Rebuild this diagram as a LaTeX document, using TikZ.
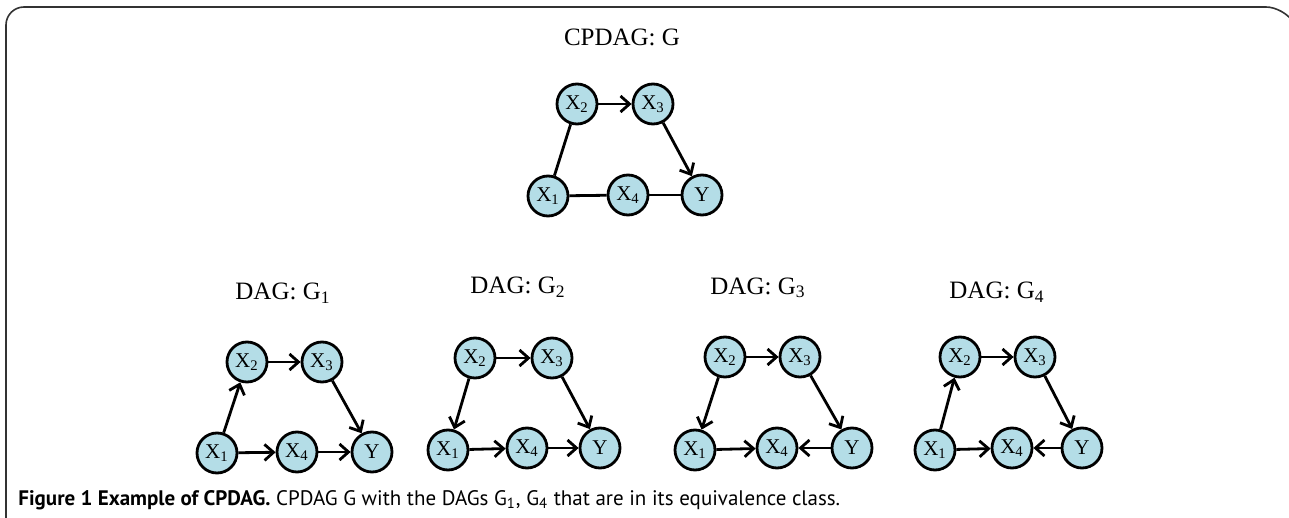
\documentclass[tikz,border=0pt]{standalone}
\usepackage{fontspec}
\setmainfont{Liberation Serif}
\newfontfamily\capfont{PT Sans}
\usetikzlibrary{arrows.meta}

\begin{document}
\begin{tikzpicture}[x=0.5pt, y=-0.5pt,
    var/.style = { draw, shape = circle, fill = lightblue, line width = 1.4pt,
                   minimum size = 20pt, inner sep = 0pt, font = \fontsize{10.5}{12}\selectfont },
    title/.style = { font = \fontsize{12.5}{14}\selectfont },
    every edge/.style = { draw, line width = 1.4pt },
    dir/.style = { -{Straight Barb[length=4.5pt, width=8pt]} }]
    \definecolor{lightblue}{HTML}{B4DDE7}
    \useasboundingbox (0,0) rectangle (1289,518);
    \draw[line width = 0.8pt, black!80, rounded corners = 9pt] (6,520) -- (6,7) -- (1284,7) -- (1298,30);

    % CPDAG G
    \node[title] (tc) at (622,37) {CPDAG: G};
    \node[var] (c2) at (577,104) {X\textsubscript{2}};
    \node[var] (c3) at (653,104) {X\textsubscript{3}};
    \node[var] (c1) at (548,196) {X\textsubscript{1}};
    \node[var] (c4) at (628,195) {X\textsubscript{4}};
    \node[var] (cy) at (702,195) {Y};
    \path (c2) edge[dir] (c3) (c3) edge[dir] (cy)
          (c2) edge (c1) (c1) edge (c4) (c4) edge (cy);

    % DAG G1
    \node[title] (t1) at (283,293) {DAG: G\textsubscript{1}};
    \node[var] (a2) at (247,362) {X\textsubscript{2}};
    \node[var] (a3) at (322,362) {X\textsubscript{3}};
    \node[var] (a1) at (217,453) {X\textsubscript{1}};
    \node[var] (a4) at (297,452) {X\textsubscript{4}};
    \node[var] (ay) at (372,452) {Y};
    \path[dir] (a1) edge (a2) (a2) edge (a3) (a3) edge (ay)
               (a1) edge (a4) (a4) edge (ay);

    % DAG G2
    \node[title] (t2) at (518,287) {DAG: G\textsubscript{2}};
    \node[var] (b2) at (475,358) {X\textsubscript{2}};
    \node[var] (b3) at (552,358) {X\textsubscript{3}};
    \node[var] (b1) at (448,450) {X\textsubscript{1}};
    \node[var] (b4) at (527,448) {X\textsubscript{4}};
    \node[var] (by) at (600,448) {Y};
    \path[dir] (b2) edge (b1) (b2) edge (b3) (b3) edge (by)
               (b1) edge (b4) (b4) edge (by);

    % DAG G3
    \node[title] (t3) at (758,288) {DAG: G\textsubscript{3}};
    \node[var] (d2) at (725,357) {X\textsubscript{2}};
    \node[var] (d3) at (800,357) {X\textsubscript{3}};
    \node[var] (d1) at (695,450) {X\textsubscript{1}};
    \node[var] (d4) at (777,448) {X\textsubscript{4}};
    \node[var] (dy) at (852,448) {Y};
    \path[dir] (d2) edge (d1) (d2) edge (d3) (d3) edge (dy)
               (d1) edge (d4) (dy) edge (d4);

    % DAG G4
    \node[title] (t4) at (997,292) {DAG: G\textsubscript{4}};
    \node[var] (e2) at (960,357) {X\textsubscript{2}};
    \node[var] (e3) at (1035,357) {X\textsubscript{3}};
    \node[var] (e1) at (935,450) {X\textsubscript{1}};
    \node[var] (e4) at (1012,448) {X\textsubscript{4}};
    \node[var] (ey) at (1082,448) {Y};
    \path[dir] (e1) edge (e2) (e2) edge (e3) (e3) edge (ey)
               (e1) edge (e4) (ey) edge (e4);

    % caption
    \node[anchor = west, inner sep = 0pt, font = \capfont\fontsize{10.5}{12}\selectfont] (cap) at (18,500)
      {\textbf{Figure 1 Example of CPDAG.} CPDAG G with the DAGs G\textsubscript{1}, G\textsubscript{4} that are in its equivalence class.};
\end{tikzpicture}
\end{document}
